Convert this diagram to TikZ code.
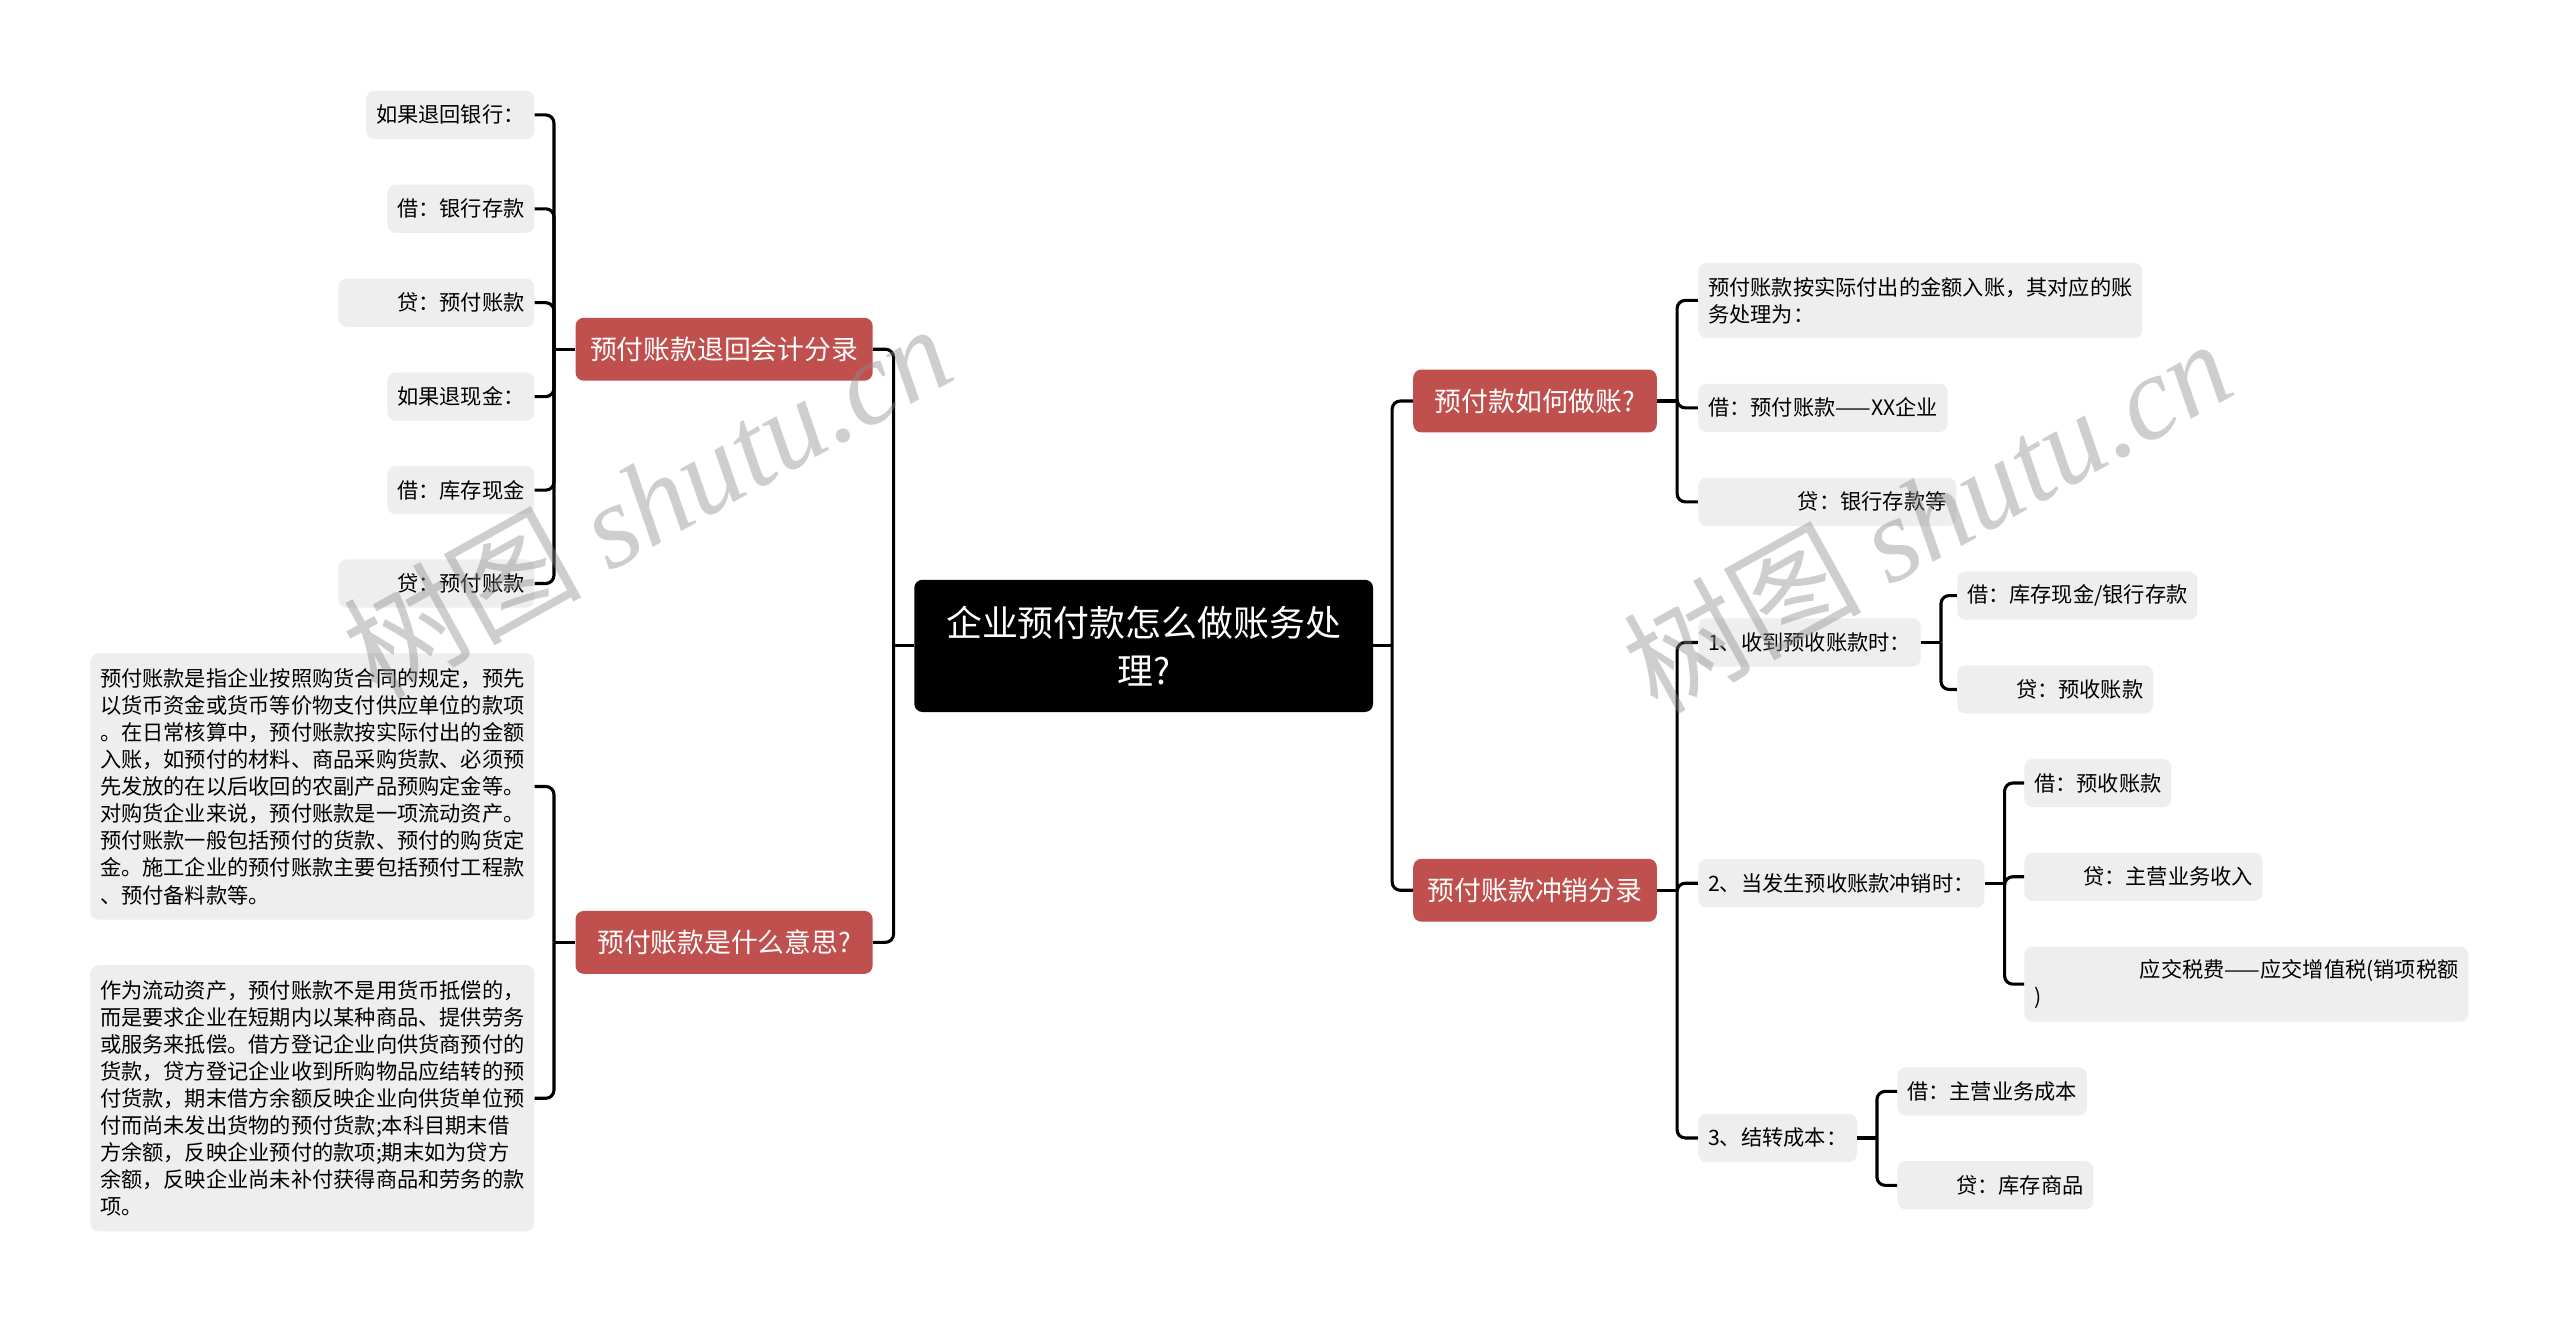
\documentclass[tikz,border=0pt]{standalone}
\usepackage{fontspec}
\setmainfont{Noto Sans CJK SC}
\newfontfamily\wmserif{Liberation Serif}
\usepackage{xcolor}
\usepackage{tikz}
\definecolor{topicred}{RGB}{192,80,77}
\definecolor{leafgray}{RGB}{238,238,238}

\begin{document}
\begin{tikzpicture}[
    x=1pt, y=-1pt,
    root/.style={
      rectangle, rounded corners=5pt, fill=black, text=white,
      minimum width=281pt, minimum height=81pt, inner sep=0pt,
      align=center, font=\fontsize{22}{29.6}\selectfont
    },
    topic/.style={
      rectangle, rounded corners=5pt, fill=topicred, text=white,
      minimum height=38.5pt, inner sep=0pt,
      font=\fontsize{16.4}{20}\selectfont
    },
    leaf/.style={
      rectangle, rounded corners=5pt, fill=leafgray, text=black,
      minimum height=29.5pt, inner xsep=6pt, inner ysep=0pt,
      font=\fontsize{13}{16.6}\selectfont
    },
    padr/.style={text width=#1, align=right},
    para/.style={text width=260pt, align=left, minimum height=#1},
    link/.style={line width=1.9pt},
    linkr/.style={line width=1.9pt, rounded corners=5pt},
    wmark/.style={rotate=29, text=black!45, text opacity=0.42,
      font=\fontsize{73}{73}\selectfont}
  ]
  \fill[white] (0,0) rectangle (1568,810);
  \useasboundingbox (0,0) rectangle (1568,810);

  \node[root] (root) at (700.5,395.6) {企业预付款怎么做账务处\\理?};

  \node[topic, minimum width=182pt] (ra) at (443.5,213.9) {预付账款退回会计分录};
  \node[topic, minimum width=182pt] (rb) at (443.5,577.2) {预付账款是什么意思?};
  \node[topic, minimum width=149.2pt] (rc) at (940.2,245.6) {预付款如何做账?};
  \node[topic, minimum width=149.2pt] (rd) at (940.2,545.3) {预付账款冲销分录};

  \node[leaf, anchor=east] (a1) at (327.5,70.4) {如果退回银行：};
  \node[leaf, anchor=east] (a2) at (327.5,127.9) {借：银行存款};
  \node[leaf, anchor=east, padr=108pt] (a3) at (327.5,185.4) {贷：预付账款};
  \node[leaf, anchor=east] (a4) at (327.5,242.9) {如果退现金：};
  \node[leaf, anchor=east] (a5) at (327.5,300.2) {借：库存现金};
  \node[leaf, anchor=east, padr=108pt] (a6) at (327.5,357.4) {贷：预付账款};

  \node[leaf, anchor=east, para=163pt] (b1) at (327.5,481.7)
        {预付账款是指企业按照购货合同的规定，预先\\
         以货币资金或货币等价物支付供应单位的款项\\
         。在日常核算中，预付账款按实际付出的金额\\
         入账，如预付的材料、商品采购货款、必须预\\
         先发放的在以后收回的农副产品预购定金等。\\
         对购货企业来说，预付账款是一项流动资产。\\
         预付账款一般包括预付的货款、预付的购货定\\
         金。施工企业的预付账款主要包括预付工程款\\
         、预付备料款等。};
  \node[leaf, anchor=east, para=163pt] (b2) at (327.5,672.7)
        {作为流动资产，预付账款不是用货币抵偿的，\\
         而是要求企业在短期内以某种商品、提供劳务\\
         或服务来抵偿。借方登记企业向供货商预付的\\
         货款，贷方登记企业收到所购物品应结转的预\\
         付货款，期末借方余额反映企业向供货单位预\\
         付而尚未发出货物的预付货款;本科目期末借\\
         方余额，反映企业预付的款项;期末如为贷方\\
         余额，反映企业尚未补付获得商品和劳务的款\\
         项。};

  \node[leaf, anchor=west, para=46pt] (c1) at (1040,184)
        {预付账款按实际付出的金额入账，其对应的账\\务处理为：};
  \node[leaf, anchor=west] (c2) at (1040,249.8) {借：预付账款——XX企业};
  \node[leaf, anchor=west, padr=146pt] (c3) at (1040,307.4) {贷：银行存款等};

  \node[leaf, anchor=west] (d1) at (1040,393.5) {1、收到预收账款时：};
  \node[leaf, anchor=west] (d2) at (1040,541) {2、当发生预收账款冲销时：};
  \node[leaf, anchor=west] (d3) at (1040,697) {3、结转成本：};

  \node[leaf, anchor=west] (e1) at (1198.6,364.8) {借：库存现金/银行存款};
  \node[leaf, anchor=west, padr=108pt] (e2) at (1198.6,422.3) {贷：预收账款};

  \node[leaf, anchor=west] (f1) at (1239.7,479.6) {借：预收账款};
  \node[leaf, anchor=west, padr=134pt] (f2) at (1239.7,537) {贷：主营业务收入};
  \node[leaf, anchor=west, para=46pt] (f3) at (1239.7,602.8)
        {\hspace*{\fill}应交税费——应交增值税(销项税额\\)};

  \node[leaf, anchor=west] (g1) at (1162,668.5) {借：主营业务成本};
  \node[leaf, anchor=west, padr=108pt] (g2) at (1162,726) {贷：库存商品};

  \draw[link] (root.west) -- ++(-12.5,0) coordinate (jl);
  \draw[link] (root.east) -- ++(11.5,0) coordinate (jr);
  \foreach \t in {ra,rb} \draw[linkr] (jl) |- (\t.east);
  \foreach \t in {rc,rd} \draw[linkr] (jr) |- (\t.west);

  \draw[link] (ra.west) -- ++(-13,0) coordinate (ja);
  \foreach \i in {1,...,6} \draw[linkr] (ja) |- (a\i.east);
  \draw[link] (rb.west) -- ++(-13,0) coordinate (jb);
  \foreach \i in {1,2} \draw[linkr] (jb) |- (b\i.east);

  \draw[link] (rc.east) -- ++(12.2,0) coordinate (jc);
  \foreach \i in {1,2,3} \draw[linkr] (jc) |- (c\i.west);
  \draw[link] (rd.east) -- ++(12.2,0) coordinate (jd);
  \foreach \i in {1,2,3} \draw[linkr] (jd) |- (d\i.west);

  \draw[link] (d1.east) -- ++(12.2,0) coordinate (je);
  \foreach \i in {1,2} \draw[linkr] (je) |- (e\i.west);
  \draw[link] (d2.east) -- ++(12.2,0) coordinate (jf);
  \foreach \i in {1,2,3} \draw[linkr] (jf) |- (f\i.west);
  \draw[link] (d3.east) -- ++(12,0) coordinate (jg);
  \foreach \i in {1,2} \draw[linkr] (jg) |- (g\i.west);

  \node[wmark] (wm1) at (396,306) {树图 {\wmserif\itshape shutu.cn}};
  \node[wmark] (wm2) at (1180,315) {树图 {\wmserif\itshape shutu.cn}};
\end{tikzpicture}
\end{document}
